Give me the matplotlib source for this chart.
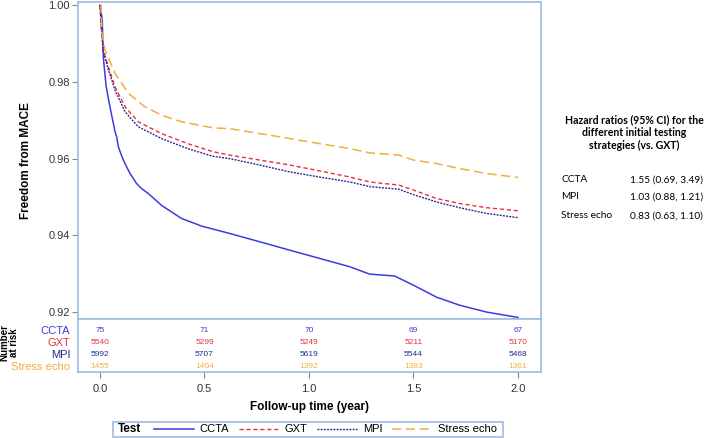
import matplotlib.pyplot as plt
from matplotlib.patches import Rectangle

plt.rcParams["font.family"] = ["Liberation Sans", "DejaVu Sans"]

# Kaplan-Meier curves (time in years, freedom from MACE)
ccta_t = [0, 0.008, 0.011, 0.016, 0.029, 0.040, 0.048, 0.056, 0.064, 0.072, 0.080, 0.088,
          0.100, 0.112, 0.128, 0.144, 0.160, 0.175, 0.199, 0.231, 0.295, 0.39, 0.487,
          0.62, 0.766, 0.91, 1.05, 1.196, 1.29, 1.41, 1.5, 1.61, 1.72, 1.85, 2.0]
ccta_s = [1.0, 0.9974, 0.9961, 0.9865, 0.9791, 0.9757, 0.9735, 0.9713, 0.9692, 0.9670, 0.9657, 0.9631,
          0.9613, 0.9596, 0.9578, 0.9561, 0.9548, 0.9535, 0.9522, 0.9509, 0.9478, 0.9444, 0.9424,
          0.9405, 0.9383, 0.9361, 0.9340, 0.9318, 0.9299, 0.9294, 0.9270, 0.9239, 0.9218, 0.9200, 0.9186]

gxt_t = [0, 0.008, 0.016, 0.04, 0.072, 0.12, 0.183, 0.295, 0.42, 0.54, 0.62, 0.766, 0.91,
         1.05, 1.196, 1.29, 1.43, 1.5, 1.61, 1.72, 1.85, 2.0]
gxt_s = [1.0, 0.993, 0.9883, 0.9839, 0.9787, 0.9735, 0.9696, 0.9665, 0.9639, 0.9618, 0.9609, 0.9596, 0.9583,
         0.9568, 0.9552, 0.9539, 0.9531, 0.9518, 0.9496, 0.9483, 0.9472, 0.9464]

mpi_t = [0, 0.008, 0.016, 0.04, 0.072, 0.12, 0.183, 0.295, 0.42, 0.54, 0.62, 0.766, 0.91,
         1.05, 1.196, 1.29, 1.43, 1.5, 1.61, 1.72, 1.85, 2.0]
mpi_s = [1.0, 0.993, 0.9880, 0.9832, 0.9778, 0.9722, 0.9683, 0.9652, 0.9626, 0.9606, 0.9600, 0.9583, 0.9565,
         0.9552, 0.9539, 0.9527, 0.9520, 0.9506, 0.9487, 0.9472, 0.9457, 0.9446]

echo_t = [0, 0.005, 0.01, 0.024, 0.072, 0.136, 0.215, 0.295, 0.39, 0.54, 0.62, 0.766, 0.91,
          1.05, 1.196, 1.29, 1.43, 1.5, 1.61, 1.72, 1.85, 2.0]
echo_s = [1.0, 1.0, 0.9927, 0.9883, 0.9822, 0.9770, 0.9735, 0.9713, 0.9696, 0.9680, 0.9678, 0.9665, 0.9652,
          0.9639, 0.9626, 0.9615, 0.9609, 0.9596, 0.9587, 0.9574, 0.9561, 0.9551]

# number at risk table
risk_times = [0.0, 0.5, 1.0, 1.5, 2.0]
groups = ["CCTA", "GXT", "MPI", "Stress echo"]
risk_ccta = [75, 71, 70, 69, 67]
risk_gxt = [5540, 5299, 5249, 5211, 5170]
risk_mpi = [5992, 5707, 5619, 5544, 5468]
risk_echo = [1455, 1404, 1392, 1383, 1361]

hr_labels = ["CCTA", "MPI", "Stress echo"]
hr_values = ["1.55 (0.69, 3.49)", "1.03 (0.88, 1.21)", "0.83 (0.63, 1.10)"]

c_ccta = "#3c3ce0"
c_gxt = "#e8303a"
c_mpi = "#28288f"
c_echo = "#f3ad3e"
frame = "#9dbbe0"
tickc = "#888888"

W, H = 709, 438
fig = plt.figure(figsize=(W / 100, H / 100), dpi=100)

L, R = 78, 541
ax = fig.add_axes([L / W, 1 - 319 / H, (R - L) / W, 317 / H])
rax = fig.add_axes([L / W, 1 - 372 / H, (R - L) / W, 53 / H])

ax.plot(ccta_t, ccta_s, color=c_ccta, lw=1.1, label="CCTA")
ax.plot(gxt_t, gxt_s, color=c_gxt, lw=1.0, dashes=(3, 2), label="GXT")
ax.plot(mpi_t, mpi_s, color=c_mpi, lw=1.0, dashes=(1.4, 0.9), label="MPI")
ax.plot(echo_t, echo_s, color=c_echo, lw=1.1, dashes=(6, 3), label="Stress echo")

xmin, xmax = -0.105, 2.11
ax.set_xlim(xmin, xmax)
ax.set_ylim(0.9182, 1.0008)
ax.set_yticks([0.92, 0.94, 0.96, 0.98, 1.00])
ax.set_yticklabels(["0.92", "0.94", "0.96", "0.98", "1.00"])
ax.set_xticks(risk_times)
ax.tick_params(axis="x", labelbottom=False, length=3, color=tickc, direction="out")
ax.tick_params(axis="y", length=4, color=tickc, labelsize=8, pad=2, labelcolor="#333333")
for sp in ax.spines.values():
    sp.set_color(frame)
    sp.set_linewidth(1.2)
ax.set_ylabel("Freedom from MACE", fontsize=8.5, fontweight="bold")
ax.yaxis.set_label_coords(-0.099, 0.5)

# risk table
rax.set_xlim(xmin, xmax)
rax.set_ylim(0, 1)
rax.set_yticks([])
rax.set_xticks(risk_times)
rax.set_xticklabels(["0.0", "0.5", "1.0", "1.5", "2.0"])
rax.tick_params(axis="x", length=4, color=tickc, labelsize=8, pad=5, labelcolor="#333333")
for sp in rax.spines.values():
    sp.set_color(frame)
    sp.set_linewidth(1.2)

rows = [risk_ccta, risk_gxt, risk_mpi, risk_echo]
cols = [c_ccta, c_gxt, c_mpi, c_echo]
row_y = [1 - 12 / 53, 1 - 24 / 53, 1 - 36 / 53, 1 - 48 / 53]
for name, vals, col, yy in zip(groups, rows, cols, row_y):
    for t, v in zip(risk_times, vals):
        rax.text(t, yy, str(v), color=col, fontsize=6, ha="center", va="center")
    rax.text(-0.017, yy, name, color=col, fontsize=8, ha="right", va="center",
             transform=rax.transAxes)

fig.text(9 / W, 1 - 343 / H, "Number\nat risk", rotation=90, fontsize=7,
         fontweight="bold", ha="center", va="center", linespacing=1.0)
fig.text((L + R) / 2 / W, 1 - 407 / H, "Follow-up time (year)", fontsize=8.5,
         fontweight="bold", ha="center", va="center")

# legend: frame box, "Test" title at left, then the four line entries
ly = 1 - 429.5 / H
fig.patches.append(Rectangle((113 / W, 1 - 437 / H), 390 / W, 15 / H,
                             transform=fig.transFigure, fill=False,
                             edgecolor=frame, linewidth=1.2))
fig.text(118 / W, ly, "Test", fontsize=8.5, fontweight="bold", ha="left", va="center")
leg = fig.legend(ax.get_lines(), groups, loc="center left", bbox_to_anchor=(154 / W, ly),
                 ncol=4, fontsize=8, handlelength=3.6, handletextpad=0.5,
                 columnspacing=0.9, frameon=False, borderpad=0, borderaxespad=0)

# hazard ratio box
hfont = "Lato"
fig.text(634 / W, 1 - 133 / H,
         "Hazard ratios (95% CI) for the\ndifferent initial testing\nstrategies (vs. GXT)",
         family=hfont, fontsize=7.6, fontweight="bold", ha="center", va="center",
         linespacing=1.2)
for lab, val, yy in zip(hr_labels, hr_values, [180, 197, 216]):
    fig.text(561 / W, 1 - yy / H, lab, family=hfont, fontsize=7.3, ha="left", va="center")
    fig.text(630 / W, 1 - yy / H, val, family=hfont, fontsize=7.3, ha="left", va="center")

fig.savefig("out.png", dpi=100)
